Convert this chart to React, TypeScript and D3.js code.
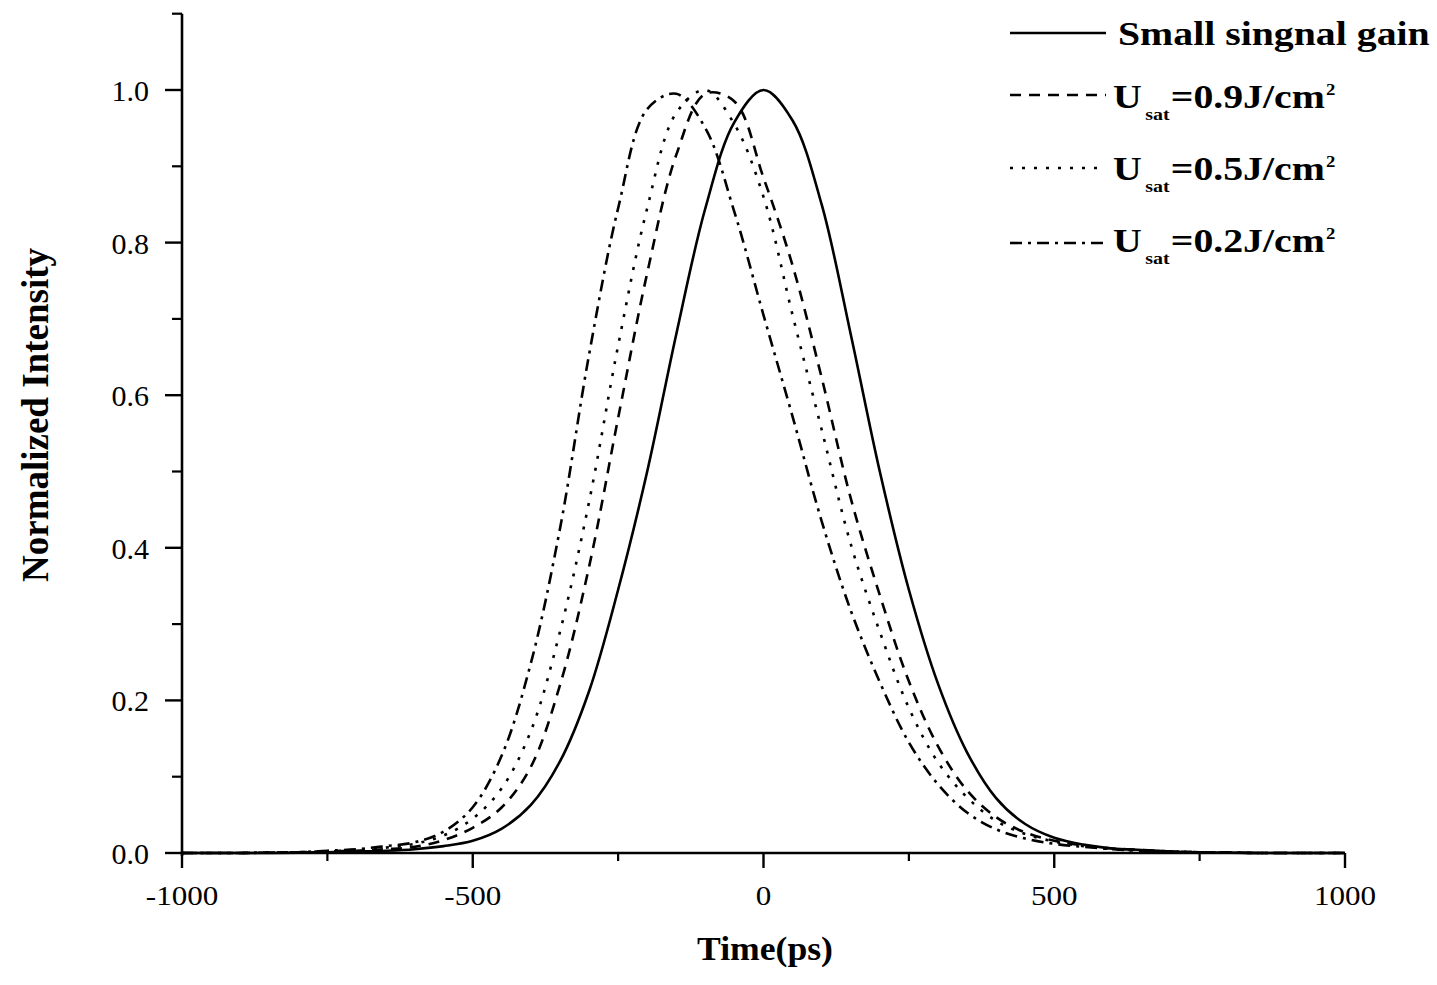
import React from "react";
import * as d3 from "d3";

// time grid (ps), -1000 .. 1000 every 50 ps
const times = [
  -1000, -950, -900, -850, -800, -750, -700, -650, -600, -550, -500, -450, -400, -350, -300, -250, -200, -150, -100, -50,
  0, 50, 100, 150, 200, 250, 300, 350, 400, 450, 500, 550, 600, 650, 700, 750, 800, 850, 900, 950, 1000,
];

const smallSignal = [
  0, 0, 0, 0, 0.0005, 0.001, 0.002, 0.003, 0.005, 0.009, 0.016, 0.032, 0.063, 0.12, 0.212, 0.345, 0.5, 0.68, 0.845, 0.958,
  1.0, 0.96, 0.85, 0.68, 0.5, 0.345, 0.222, 0.132, 0.072, 0.038, 0.02, 0.011, 0.006, 0.004, 0.002, 0.001, 0.0005, 0, 0, 0, 0,
];
const usat09 = [
  0, 0, 0, 0.0005, 0.001, 0.002, 0.003, 0.005, 0.008, 0.017, 0.033, 0.06, 0.113, 0.22, 0.375, 0.57, 0.76, 0.915, 0.995, 0.985,
  0.885, 0.77, 0.623, 0.465, 0.338, 0.225, 0.14, 0.082, 0.047, 0.027, 0.016, 0.01, 0.006, 0.004, 0.002, 0.001, 0.0005, 0, 0, 0, 0,
];
const usat05 = [
  0, 0, 0, 0.0005, 0.001, 0.002, 0.004, 0.007, 0.012, 0.023, 0.045, 0.085, 0.16, 0.29, 0.46, 0.665, 0.845, 0.97, 1.0, 0.955,
  0.86, 0.705, 0.555, 0.405, 0.29, 0.19, 0.119, 0.073, 0.042, 0.025, 0.015, 0.009, 0.005, 0.003, 0.002, 0.001, 0.0005, 0, 0, 0, 0,
];
const usat02 = [
  0, 0, 0, 0.0005, 0.001, 0.003, 0.005, 0.009, 0.014, 0.028, 0.06, 0.128, 0.249, 0.425, 0.653, 0.845, 0.975, 0.995, 0.95, 0.84,
  0.705, 0.572, 0.435, 0.318, 0.224, 0.145, 0.09, 0.053, 0.031, 0.019, 0.012, 0.008, 0.005, 0.003, 0.002, 0.001, 0.0005, 0, 0, 0, 0,
];

const xMajorTicks = [-1000, -500, 0, 500, 1000];
const xMinorTicks = [-750, -250, 250, 750];
const yMajorTicks = [0, 0.2, 0.4, 0.6, 0.8, 1.0];
const yMinorTicks = [0.1, 0.3, 0.5, 0.7, 0.9, 1.1];

const legendValues = ["0.9", "0.5", "0.2"];

const FONT = "'Liberation Serif', 'Times New Roman', 'DejaVu Serif', serif";

export default function App() {
  const x = d3.scaleLinear().domain([-1000, 1000]).range([182, 1345]);
  const y = d3.scaleLinear().domain([0, 1.1]).range([853, 853 - 763 * 1.1]);

  const mk = (vals: number[]) =>
    d3
      .line<number>()
      .x((_, i) => x(times[i]))
      .y((v) => y(Math.max(0, v)))
      .curve(d3.curveCatmullRom.alpha(0.5))(vals) || "";

  const series = [
    { vals: smallSignal, dash: "none" },
    { vals: usat09, dash: "11,8" },
    { vals: usat05, dash: "3,9" },
    { vals: usat02, dash: "12,6,3,6" },
  ];

  const legendLineY = [33, 95, 168, 243];
  const legendBase = [45, 108, 180, 252];

  return (
    <svg
      width={1437}
      height={985}
      style={{ position: "absolute", left: 0, top: 0, background: "#fff" }}
      fontFamily={FONT}
    >
      <rect x={0} y={0} width={1437} height={985} fill="#fff" />
      {series.map((s, i) => (
        <path
          key={i}
          d={mk(s.vals)}
          fill="none"
          stroke="#000"
          strokeWidth={2.6}
          strokeDasharray={s.dash}
        />
      ))}
      <line x1={x(-1000)} x2={x(1000)} y1={y(0)} y2={y(0)} stroke="#000" strokeWidth={2.6} />
      <line x1={x(-1000)} x2={x(-1000)} y1={y(0) + 3} y2={y(1.1)} stroke="#000" strokeWidth={2.6} />
      {xMajorTicks.map((t) => (
        <g key={"xm" + t}>
          <line x1={x(t)} x2={x(t)} y1={y(0)} y2={y(0) + 15} stroke="#000" strokeWidth={2.4} />
          <text
            transform={`translate(${x(t)},905) scale(1.15,1)`}
            textAnchor="middle"
            fontSize={27}
          >
            {t === 0 ? "0" : t < 0 ? "-" + Math.abs(t) : String(t)}
          </text>
        </g>
      ))}
      {xMinorTicks.map((t) => (
        <line key={"xn" + t} x1={x(t)} x2={x(t)} y1={y(0)} y2={y(0) + 8} stroke="#000" strokeWidth={2.2} />
      ))}
      {yMajorTicks.map((v) => (
        <g key={"ym" + v}>
          <line x1={x(-1000) - 17} x2={x(-1000)} y1={y(v)} y2={y(v)} stroke="#000" strokeWidth={2.4} />
          <text x={149} y={y(v) + 11} textAnchor="end" fontSize={30}>
            {v.toFixed(1)}
          </text>
        </g>
      ))}
      {yMinorTicks.map((v) => (
        <line key={"yn" + v} x1={x(-1000) - 10} x2={x(-1000)} y1={y(v)} y2={y(v)} stroke="#000" strokeWidth={2.2} />
      ))}
      <text
        transform={`translate(765,960) scale(1.08,1)`}
        textAnchor="middle"
        fontSize={33}
        fontWeight="bold"
      >
        Time(ps)
      </text>
      <text
        transform={`translate(47.5,415) rotate(-90)`}
        textAnchor="middle"
        fontSize={37}
        fontWeight="bold"
      >
        Normalized Intensity
      </text>
      {series.map((s, i) => (
        <line
          key={"lg" + i}
          x1={1010}
          x2={1106}
          y1={legendLineY[i]}
          y2={legendLineY[i]}
          stroke="#000"
          strokeWidth={2.6}
          strokeDasharray={s.dash}
        />
      ))}
      <text
        transform={`translate(1118,${legendBase[0]}) scale(1.17,1)`}
        fontSize={34}
        fontWeight="bold"
      >
        Small singnal gain
      </text>
      {legendValues.map((v, i) => (
        <text
          key={"lt" + v}
          transform={`translate(1113,${legendBase[i + 1]}) scale(1.17,1)`}
          fontSize={34}
          fontWeight="bold"
        >
          U
          <tspan fontSize={17} dx={3} dy={12}>
            sat
          </tspan>
          <tspan dx={1} dy={-12}>
            {"=" + v + "J/cm"}
          </tspan>
          <tspan fontSize={16} dx={1} dy={-13}>
            2
          </tspan>
        </text>
      ))}
    </svg>
  );
}
